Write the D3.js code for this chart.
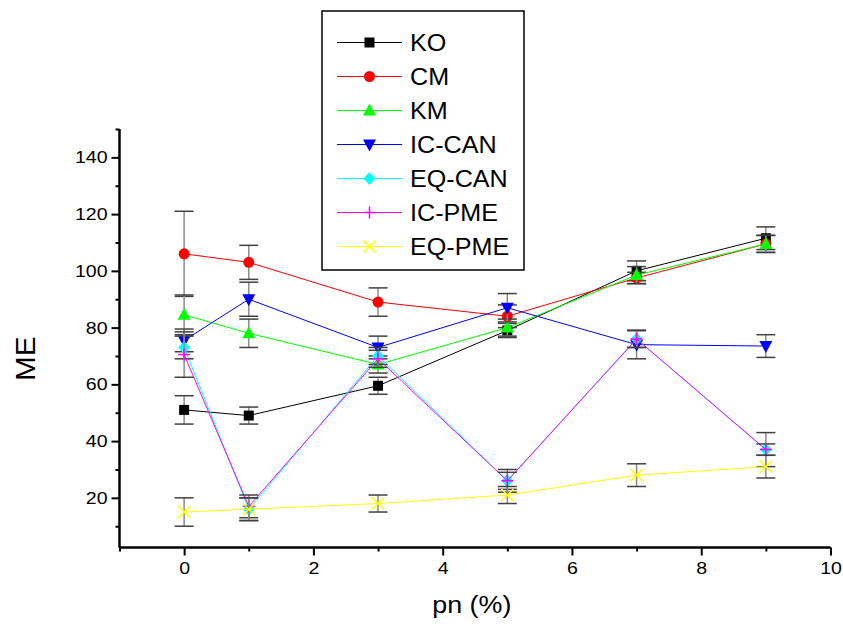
<!DOCTYPE html>
<html>
<head>
<meta charset="utf-8">
<script src="https://cdn.jsdelivr.net/npm/d3@7"></script>
<style>
  html, body { margin: 0; padding: 0; background: #fff; }
  svg { display: block; font-family: "Liberation Sans", Arial, sans-serif; }
</style>
</head>
<body>
<svg id="chart" width="843" height="626"></svg>
<script>
// ---- data ----
const xValues = [0, 1, 3, 5, 7, 9];
const seriesNames = ["KO", "CM", "KM", "IC-CAN", "EQ-CAN", "IC-PME", "EQ-PME"];
const koValues    = [51, 49, 59.5, 79, 100, 111.5];
const koErrors    = [5, 3, 3, 2.5, 3.5, 4];
const cmValues    = [106, 103, 89, 84, 97.5, 109.5];
const cmErrors    = [15, 6, 5, 4, 2, 3];
const kmValues    = [84.5, 78, 67, 80, 98.5, 109.5];
const kmErrors    = [7, 5, 3, 3, 3, 3];
const icCanValues = [75.5, 90, 73, 87, 74, 73.5];
const icCanErrors = [4, 6, 4, 5, 5, 4];
const eqCanValues = [73, 16, 70, 26, 76, 37];
const eqCanErrors = [4, 4, 3, 4, 3, 6];
const icPmeValues = [70.5, 17, 69, 26, 76, 37];
const icPmeErrors = [8, 4, 3, 3, 3, 2];
const eqPmeValues = [15, 16, 18, 21, 28, 31];
const eqPmeErrors = [5, 4, 3, 3, 4, 4];
const xTicks = [0, 2, 4, 6, 8, 10];
const yTicks = [20, 40, 60, 80, 100, 120, 140];
const xTitle = "pn (%)";
const yTitle = "ME";

// ---- styling ----
const colors = ["#000000", "#ff0000", "#00ff00", "#0000ff", "#00ffff", "#ff00ff", "#ffff00"];
const symbols = ["square", "circle", "triUp", "triDown", "diamond", "plus", "cross"];
const allValues = [koValues, cmValues, kmValues, icCanValues, eqCanValues, icPmeValues, eqPmeValues];
const allErrors = [koErrors, cmErrors, kmErrors, icCanErrors, eqCanErrors, icPmeErrors, eqPmeErrors];

const series = seriesNames.map((name, i) => ({
  name, color: colors[i], symbol: symbols[i],
  points: xValues.map((x, j) => ({ x, y: allValues[i][j], e: allErrors[i][j] }))
}));

const svg = d3.select("#chart");
const mLeft = 119.5, mRight = 830.5, mTop = 129, mBottom = 547.5;

const x = d3.scaleLinear().domain([-1, 10]).range([mLeft, mRight]);
const y = d3.scaleLinear().domain([2.5, 150]).range([mBottom, mTop]);

// ---- axes ----
const xAxis = d3.axisBottom(x).tickValues(xTicks).tickSize(8).tickPadding(6).tickFormat(d3.format("d"));
const xMinor = d3.axisBottom(x).tickValues([-1, 1, 3, 5, 7, 9]).tickSize(4).tickFormat("");
const yAxis = d3.axisLeft(y).tickValues(yTicks).tickSize(8).tickPadding(4).tickFormat(d3.format("d"));
const yMinor = d3.axisLeft(y).tickValues([10, 30, 50, 70, 90, 110, 130, 150]).tickSize(4).tickFormat("");

function styleAxis(g) {
  g.select(".domain").attr("stroke", "#000").attr("stroke-width", 2);
  g.selectAll(".tick line").attr("stroke", "#000").attr("stroke-width", 2);
  g.selectAll(".tick text").attr("fill", "#000").style("font-size", "17px")
    .style("font-family", "'Liberation Sans', Arial, sans-serif");
}

svg.append("g").attr("transform", `translate(0,${mBottom})`).call(xMinor).call(styleAxis)
  .select(".domain").attr("d", `M${mLeft},0H${mRight}`);
svg.append("g").attr("transform", `translate(0,${mBottom})`).call(xAxis).call(styleAxis)
  .select(".domain").attr("d", `M${mLeft},0H${mRight}`);
svg.append("g").attr("transform", `translate(${mLeft},0)`).call(yMinor).call(styleAxis)
  .select(".domain").attr("d", `M0,${mTop}V${mBottom}`);
svg.append("g").attr("transform", `translate(${mLeft},0)`).call(yAxis).call(styleAxis)
  .select(".domain").attr("d", `M0,${mTop}V${mBottom}`);

// slightly widen tick labels like the original rendering
svg.selectAll(".tick text").each(function() {
  const t = d3.select(this);
  const xx = +t.attr("x") || 0;
  t.attr("x", xx / 1.15).attr("transform", "scale(1.15,1)");
});

// titles
svg.append("text").attr("transform", `translate(${x(4.45)},613) scale(1.12,1)`).attr("text-anchor", "middle")
  .style("font-size", "24px").text(xTitle);
svg.append("text").attr("transform", `translate(35,${y(69)}) rotate(-90) scale(1.1,1)`).attr("text-anchor", "middle")
  .style("font-size", "27px").text(yTitle);

// ---- marker helper ----
function drawMarker(g, type, cx, cy, color) {
  if (type === "square") {
    g.append("rect").attr("x", cx - 5).attr("y", cy - 5).attr("width", 10).attr("height", 10).attr("fill", color);
  } else if (type === "circle") {
    g.append("circle").attr("cx", cx).attr("cy", cy).attr("r", 5.5).attr("fill", color);
  } else if (type === "triUp") {
    g.append("path").attr("d", `M${cx},${cy - 7}L${cx + 6.5},${cy + 5}L${cx - 6.5},${cy + 5}Z`).attr("fill", color);
  } else if (type === "triDown") {
    g.append("path").attr("d", `M${cx},${cy + 7}L${cx + 6.5},${cy - 5}L${cx - 6.5},${cy - 5}Z`).attr("fill", color);
  } else if (type === "diamond") {
    g.append("path").attr("d", `M${cx},${cy - 6.5}L${cx + 6},${cy}L${cx},${cy + 6.5}L${cx - 6},${cy}Z`).attr("fill", color);
  } else if (type === "plus") {
    g.append("path").attr("d", `M${cx - 6},${cy}H${cx + 6}M${cx},${cy - 6}V${cy + 6}`).attr("stroke", color).attr("stroke-width", 1.5).attr("fill", "none");
  } else if (type === "cross") {
    g.append("path").attr("d", `M${cx - 6},${cy - 6}L${cx + 6},${cy + 6}M${cx + 6},${cy - 6}L${cx - 6},${cy + 6}`).attr("stroke", color).attr("stroke-width", 1.5).attr("fill", "none");
  }
}

// ---- series ----
const line = d3.line().x(d => x(d.x)).y(d => y(d.y));
const plot = svg.append("g");
series.forEach(s => {
  const g = plot.append("g");
  g.append("path").datum(s.points).attr("d", line).attr("fill", "none")
    .attr("stroke", s.color).attr("stroke-width", 1);
  s.points.forEach(p => {
    const cx = x(p.x), y1 = y(p.y + p.e), y2 = y(p.y - p.e);
    g.append("line").attr("x1", cx).attr("x2", cx).attr("y1", y1).attr("y2", y2)
      .attr("stroke", "#8c8c8c").attr("stroke-width", 1.5);
    [y1, y2].forEach(yy => g.append("line").attr("x1", cx - 9.5).attr("x2", cx + 9.5)
      .attr("y1", yy).attr("y2", yy).attr("stroke", "#404040").attr("stroke-width", 1.5));
  });
  s.points.forEach(p => drawMarker(g, s.symbol, x(p.x), y(p.y), s.color));
});

// ---- legend ----
const lg = svg.append("g");
lg.append("rect").attr("x", 322).attr("y", 11).attr("width", 202).attr("height", 259)
  .attr("fill", "#fff").attr("stroke", "#000").attr("stroke-width", 1.5);
series.forEach((s, i) => {
  const cy = 42.5 + i * 34;
  lg.append("line").attr("x1", 337).attr("x2", 402).attr("y1", cy).attr("y2", cy)
    .attr("stroke", s.color).attr("stroke-width", 1);
  drawMarker(lg, s.symbol, 369.5, cy, s.color);
  lg.append("text").attr("transform", `translate(410,${cy + 8.5}) scale(1.07,1)`)
    .style("font-size", "23.5px").text(s.name);
});
</script>
</body>
</html>
